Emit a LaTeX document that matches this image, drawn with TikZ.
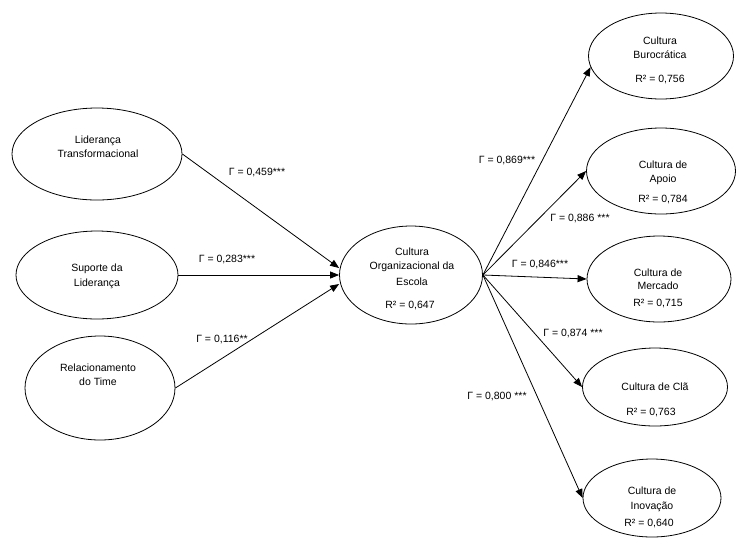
\documentclass[tikz,border=0pt]{standalone}
\usepackage{fontspec}
\setmainfont{Liberation Sans}
\usetikzlibrary{shapes.geometric,arrows.meta}
\begin{document}
\begin{tikzpicture}[x=1pt,y=-1pt,
  ell/.style={draw,ellipse,line width=0.8pt,inner sep=0pt},
  txt/.style={font=\fontsize{10.5}{12}\selectfont,inner sep=0pt,text height=7.5pt,text depth=0pt},
  arr/.style={line width=0.8pt,-{Triangle[length=9pt,width=7pt]}}]
\useasboundingbox (0,0) rectangle (752,550);
% ellipses
\node[ell,minimum width=170pt,minimum height=92pt] (lt) at (97,154) {};
\node[ell,minimum width=162pt,minimum height=88pt] (sl) at (97,275) {};
\node[ell,minimum width=150pt,minimum height=104pt] (rt) at (100,388) {};
\node[ell,minimum width=143pt,minimum height=98pt] (c) at (411,275) {};
\node[ell,minimum width=145pt,minimum height=86pt] (bur) at (661,56) {};
\node[ell,minimum width=149pt,minimum height=86pt] (apo) at (661,171) {};
\node[ell,minimum width=144pt,minimum height=86pt] (mer) at (659,279) {};
\node[ell,minimum width=145pt,minimum height=78pt] (cla) at (655,387) {};
\node[ell,minimum width=138pt,minimum height=78pt] (ino) at (652,498) {};
% texts in ellipses
\node[txt] (lt1) at (98,140) {Liderança};
\node[txt] (lt2) at (98,154) {Transformacional};
\node[txt] (sl1) at (97,268) {Suporte da};
\node[txt] (sl2) at (97,283) {Liderança};
\node[txt] (rt1) at (98,368) {Relacionamento};
\node[txt] (rt2) at (98,382) {do Time};
\node[txt] (c1) at (412,252) {Cultura};
\node[txt] (c2) at (412,266) {Organizacional da};
\node[txt] (c3) at (412,282) {Escola};
\node[txt] (c4) at (410,305) {R² = 0,647};
\node[txt] (bur1) at (660,41) {Cultura};
\node[txt] (bur2) at (660,55) {Burocrática};
\node[txt] (bur3) at (660,79) {R² = 0,756};
\node[txt] (apo1) at (663,165) {Cultura de};
\node[txt] (apo2) at (663,179) {Apoio};
\node[txt] (apo3) at (663,199) {R² = 0,784};
\node[txt] (mer1) at (658,273) {Cultura de};
\node[txt] (mer2) at (658,286) {Mercado};
\node[txt] (mer3) at (658,303) {R² = 0,715};
\node[txt] (cla1) at (655,387) {Cultura de Clã};
\node[txt] (cla2) at (651,412) {R² = 0,763};
\node[txt] (ino1) at (652,491) {Cultura de};
\node[txt] (ino2) at (652,506) {Inovação};
\node[txt] (ino3) at (649,523) {R² = 0,640};
% connectors
\draw[arr] (lt.east) -- ([yshift=7pt]c.west);
\draw[arr] (sl.east) -- (c.west);
\draw[arr] (rt.east) -- ([yshift=-9pt]c.west);
\draw[arr] (c.east) -- (bur.189);
\draw[arr] (c.east) -- (apo.west);
\draw[arr] (c.east) -- (mer.west);
\draw[arr] (c.east) -- (cla.west);
\draw[arr] (c.east) -- (ino.west);
% path labels
\node[txt] (g1) at (257,172) {Γ = 0,459***};
\node[txt] (g2) at (227,259) {Γ = 0,283***};
\node[txt] (g3) at (222,339) {Γ = 0,116**};
\node[txt] (g4) at (507,160) {Γ = 0,869***};
\node[txt] (g5) at (580,218) {Γ = 0,886 ***};
\node[txt] (g6) at (540,264) {Γ = 0,846***};
\node[txt] (g7) at (573,333) {Γ = 0,874 ***};
\node[txt] (g8) at (497,396) {Γ = 0,800 ***};
\end{tikzpicture}
\end{document}
